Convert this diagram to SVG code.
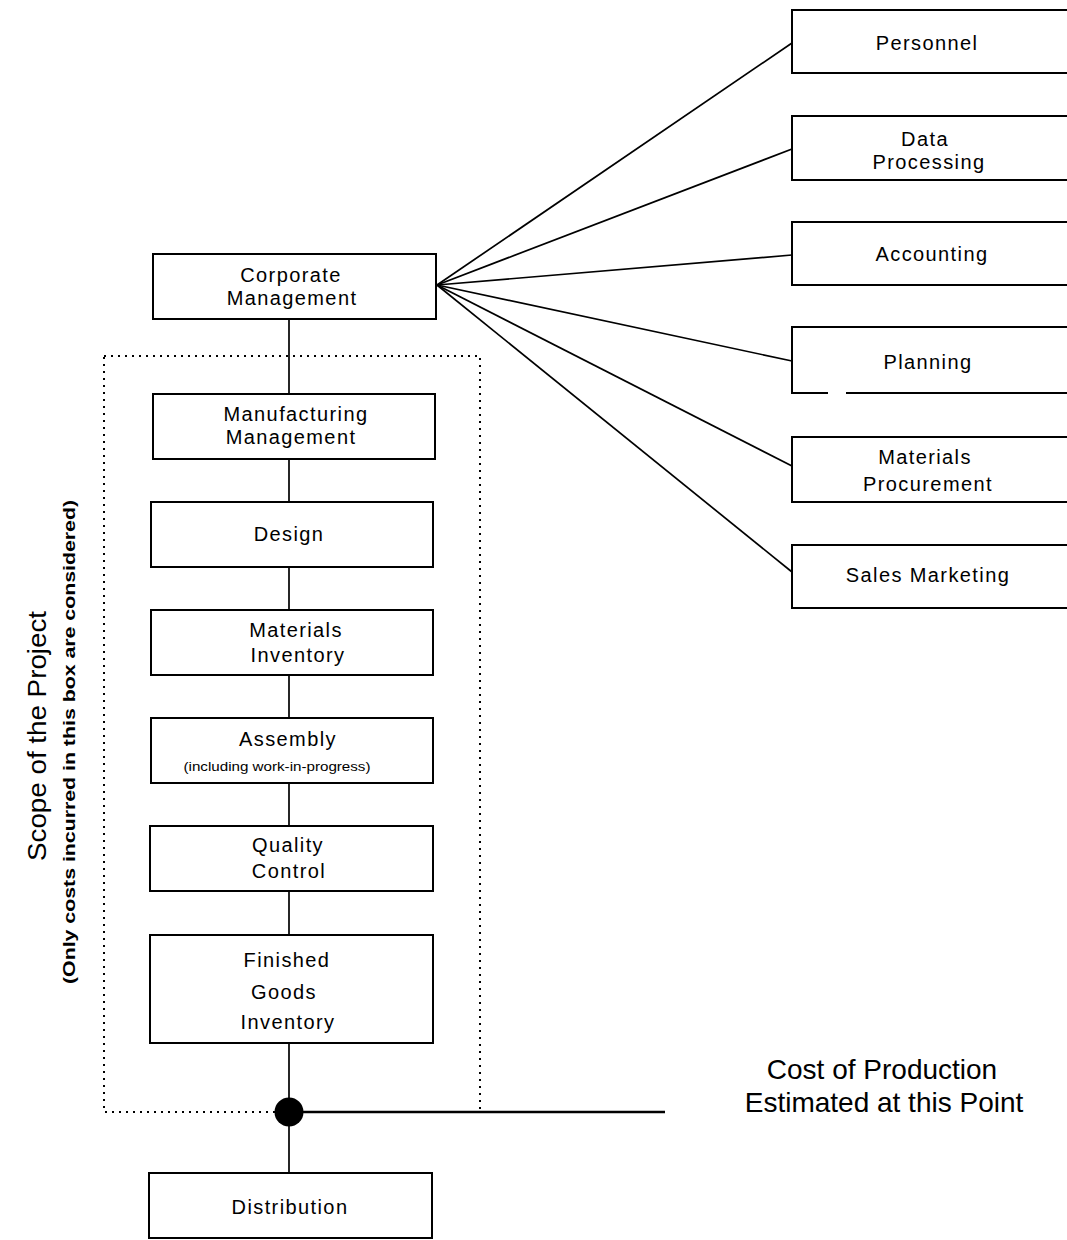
<svg xmlns="http://www.w3.org/2000/svg" width="1067" height="1240" viewBox="0 0 1067 1240">
<style>
.box{fill:#fff;stroke:#000;stroke-width:2}
.t{font-family:"Liberation Sans",Arial,sans-serif;font-size:20px;fill:#000;text-anchor:middle;letter-spacing:1.4px}
.s{font-family:"Liberation Sans",Arial,sans-serif;font-size:13px;fill:#000;text-anchor:middle}
.ln{stroke:#000;stroke-width:1.7;fill:none}
</style>
<rect width="1067" height="1240" fill="#fff"/>
<g id="connectors">
<line class="ln" x1="437" y1="285" x2="792" y2="43"/>
<line class="ln" x1="437" y1="285" x2="792" y2="149"/>
<line class="ln" x1="437" y1="285" x2="792" y2="255"/>
<line class="ln" x1="437" y1="285" x2="792" y2="361"/>
<line class="ln" x1="437" y1="285" x2="792" y2="466"/>
<line class="ln" x1="437" y1="285" x2="792" y2="572"/>
<line class="ln" x1="289" y1="319" x2="289" y2="1173"/>
<line x1="289" y1="1112" x2="665" y2="1112" stroke="#000" stroke-width="2.4"/>
</g>
<g id="scope">
<rect x="104" y="356" width="376" height="756" fill="none" stroke="#000" stroke-width="2" stroke-dasharray="2,5"/>
<text transform="translate(46,736) rotate(-90)" textLength="250" lengthAdjust="spacingAndGlyphs" style="font-family:'Liberation Sans',Arial,sans-serif;font-size:26px;text-anchor:middle">Scope of the Project</text>
<text transform="translate(75,742) rotate(-90)" textLength="484" lengthAdjust="spacingAndGlyphs" style="font-family:'Liberation Sans',Arial,sans-serif;font-size:16px;font-weight:bold;text-anchor:middle">(Only costs incurred in this box are considered)</text>
</g>
<g id="corporate"><rect class="box" x="153" y="254" width="283" height="65"/><text class="t" x="291" y="282">Corporate</text><text class="t" x="292" y="305">Management</text></g>
<g id="manufacturing"><rect class="box" x="153" y="394" width="282" height="65"/><text class="t" x="296" y="421">Manufacturing</text><text class="t" x="291" y="444">Management</text></g>
<g id="design"><rect class="box" x="151" y="502" width="282" height="65"/><text class="t" x="289" y="541">Design</text></g>
<g id="materials-inventory"><rect class="box" x="151" y="610" width="282" height="65"/><text class="t" x="296" y="637">Materials</text><text class="t" x="298" y="662">Inventory</text></g>
<g id="assembly"><rect class="box" x="151" y="718" width="282" height="65"/><text class="t" x="288" y="746">Assembly</text><text class="s" x="277" y="771" textLength="187" lengthAdjust="spacingAndGlyphs">(including work-in-progress)</text></g>
<g id="quality"><rect class="box" x="150" y="826" width="283" height="65"/><text class="t" x="288" y="852">Quality</text><text class="t" x="289" y="878">Control</text></g>
<g id="finished"><rect class="box" x="150" y="935" width="283" height="108"/><text class="t" x="287" y="967">Finished</text><text class="t" x="284" y="999">Goods</text><text class="t" x="288" y="1029">Inventory</text></g>
<g id="junction"><circle cx="289" cy="1112" r="14.5" fill="#000"/></g>
<g id="distribution"><rect class="box" x="149" y="1173" width="283" height="65"/><text class="t" x="290" y="1214">Distribution</text></g>
<g id="personnel"><rect class="box" x="792" y="10" width="290" height="63"/><text class="t" x="927" y="50">Personnel</text></g>
<g id="data-processing"><rect class="box" x="792" y="116" width="290" height="64"/><text class="t" x="925" y="146">Data</text><text class="t" x="929" y="169">Processing</text></g>
<g id="accounting"><rect class="box" x="792" y="222" width="290" height="63"/><text class="t" x="932" y="261">Accounting</text></g>
<g id="planning"><path d="M846 393 H1082 M828 393 H792 V327 H1082" class="box" fill="none"/><text class="t" x="928" y="369">Planning</text></g>
<g id="materials-procurement"><rect class="box" x="792" y="437" width="290" height="65"/><text class="t" x="925" y="464">Materials</text><text class="t" x="928" y="491">Procurement</text></g>
<g id="sales"><rect class="box" x="792" y="545" width="290" height="63"/><text class="t" x="928" y="582">Sales Marketing</text></g>
<g id="cost-label">
<text x="882" y="1079" style="font-family:'Liberation Sans',Arial,sans-serif;font-size:28px;text-anchor:middle">Cost of Production</text>
<text x="884" y="1112" style="font-family:'Liberation Sans',Arial,sans-serif;font-size:28px;text-anchor:middle">Estimated at this Point</text>
</g>
</svg>
